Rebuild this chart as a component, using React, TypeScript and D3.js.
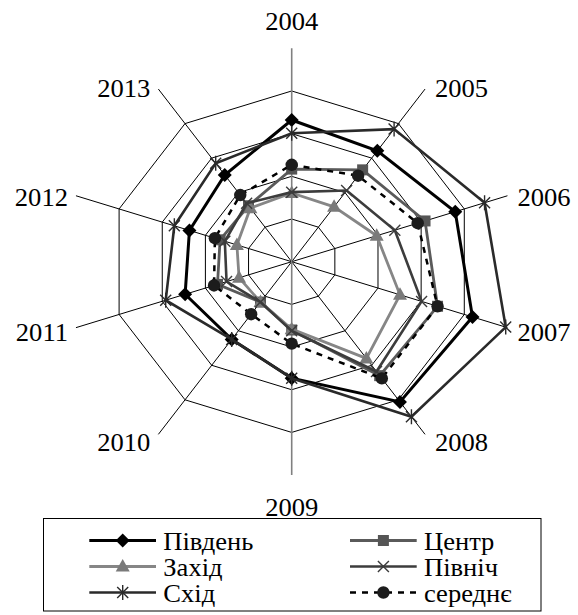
import React from 'react'
import * as d3 from 'd3'

// categories (axes) and series values
const years = ['2004', '2005', '2006', '2007', '2008', '2009', '2010', '2011', '2012', '2013']
const pivden = [3.32, 3.21, 3.79, 4.19, 4.06, 2.73, 2.25, 2.47, 2.37, 2.51]
const tsentr = [2.17, 2.66, 3.09, 3.38, 3.3, 1.6, 1.17, 1.72, 1.66, 1.62]
const zakhid = [1.61, 1.59, 1.97, 2.51, 2.8, 1.58, 1.17, 1.22, 1.27, 1.55]
const pivnich = [1.63, 2.06, 2.39, 3.01, 3.18, 1.62, 1.17, 1.51, 1.55, 1.69]
const skhid = [3.01, 3.84, 4.47, 4.96, 4.49, 2.73, 2.25, 2.92, 2.72, 2.85]
const serednie = [2.27, 2.49, 2.92, 3.38, 3.38, 1.92, 1.52, 1.8, 1.78, 1.93]
const gridLevels = [1, 2, 3, 4]

const W = 578
const H = 615
const cx = 291.7
const cy = 261.7
const K = 1.063 // the picture is a little wider than tall

const r = d3.scaleLinear().domain([0, 5]).range([0, 213.4])
const ang = d3.scaleLinear().domain([0, years.length]).range([0, 2 * Math.PI])

const pt = (i: number, v: number): [number, number] => {
  const a = ang(i)
  return [cx + K * r(v) * Math.sin(a), cy - r(v) * Math.cos(a)]
}

const closed = d3.line().curve(d3.curveLinearClosed)

// marker shapes
const markerPath: Record<string, string> = {
  diamond: 'M0,-7L7,0L0,7L-7,0Z',
  square: 'M-5.5,-5.5H5.5V5.5H-5.5Z',
  triangle: 'M0,-7.5L7,5L-7,5Z',
  times: 'M-5.5,-5.5L5.5,5.5M-5.5,5.5L5.5,-5.5',
  asterisk: 'M-5.5,-5.5L5.5,5.5M-5.5,5.5L5.5,-5.5M0,-7.5L0,7.5',
}

const series = [
  { name: 'Південь', values: pivden, color: '#000000', width: 3, dash: null, marker: 'diamond', fill: '#000000' },
  { name: 'Центр', values: tsentr, color: '#5a5a5a', width: 2.8, dash: null, marker: 'square', fill: '#555555' },
  { name: 'Захід', values: zakhid, color: '#868686', width: 2.8, dash: null, marker: 'triangle', fill: '#7a7a7a' },
  { name: 'Північ', values: pivnich, color: '#3c3c3c', width: 2.6, dash: null, marker: 'times', fill: 'none' },
  { name: 'Схід', values: skhid, color: '#2a2a2a', width: 2.6, dash: null, marker: 'asterisk', fill: 'none' },
  { name: 'середнє', values: serednie, color: '#000000', width: 2.5, dash: '6,6', marker: 'circle', fill: '#1c1c1c' },
]

const Marker = ({ x, y, s }: { x: number; y: number; s: any }) => {
  if (s.marker === 'circle') return <circle cx={x} cy={y} r={6.2} fill={s.fill} />
  const stroke = s.fill === 'none'
  return (
    <path
      d={markerPath[s.marker]}
      transform={`translate(${x},${y})`}
      fill={s.fill}
      stroke={stroke ? s.color : 'none'}
      strokeWidth={stroke ? 1.4 : 0}
    />
  )
}

// text is stretched a little sideways, like the rest of the picture
const Label = ({ x, y, anchor, children }: any) => (
  <text
    transform={`translate(${x},${y}) scale(${K},1)`}
    textAnchor={anchor}
    style={{ fontFamily: 'Liberation Serif', fontSize: '25px' }}
  >
    {children}
  </text>
)

export default function App() {
  const n = years.length

  const labels = years.map((y, i) => {
    const [ex, ey] = pt(i, 5)
    const s = Math.sin(ang(i))
    const c = Math.cos(ang(i))
    if (Math.abs(s) < 0.01) {
      return <Label key={y} x={ex} y={c > 0 ? ey - 18 : ey + 41} anchor="middle">{y}</Label>
    }
    return (
      <Label key={y} x={ex + (s > 0 ? 10 : -8)} y={ey + 12 - 5.5 * c} anchor={s > 0 ? 'start' : 'end'}>
        {y}
      </Label>
    )
  })

  // legend
  const legCols = [89.3, 350]
  const legRows = [540.5, 566.5, 592.5]

  return (
    <svg width={W} height={H} style={{ position: 'absolute', left: 0, top: 0, background: '#fff' }}>
      {/* grid */}
      {gridLevels.map((lv) => (
        <path
          key={lv}
          d={closed(years.map((_, i) => pt(i, lv))) || ''}
          fill="none"
          stroke="#000"
          strokeWidth={1}
        />
      ))}
      {years.map((y, i) => {
        if (i % 5 === 0) return null
        const [x2, y2] = pt(i, 5)
        return <line key={y} x1={cx} y1={cy} x2={x2} y2={y2} stroke="#000" strokeWidth={1} />
      })}
      <line x1={cx} y1={pt(0, 5)[1]} x2={cx} y2={pt(n / 2, 5)[1]} stroke="#808080" strokeWidth={1.6} />

      {/* series */}
      {series.map((s) => (
        <g key={s.name}>
          <path
            d={closed(s.values.map((v, i) => pt(i, v))) || ''}
            fill="none"
            stroke={s.color}
            strokeWidth={s.width}
            strokeDasharray={s.dash || undefined}
            strokeLinejoin="miter"
          />
          {s.values.map((v, i) => {
            const [x, y] = pt(i, v)
            return <Marker key={i} x={x} y={y} s={s} />
          })}
        </g>
      ))}

      {labels}

      {/* legend */}
      <rect x={43.5} y={518.5} width={497.5} height={92.5} fill="none" stroke="#000" strokeWidth={1} />
      {series.map((s, k) => {
        const x0 = legCols[k % 2]
        const y0 = legRows[Math.floor(k / 2)]
        return (
          <g key={s.name}>
            <line
              x1={x0}
              x2={x0 + 66.7}
              y1={y0}
              y2={y0}
              stroke={s.color}
              strokeWidth={s.width}
              strokeDasharray={s.dash || undefined}
            />
            <Marker x={x0 + 33.4} y={y0} s={s} />
            <Label x={x0 + 74} y={y0 + 9} anchor="start">{s.name}</Label>
          </g>
        )
      })}
    </svg>
  )
}
